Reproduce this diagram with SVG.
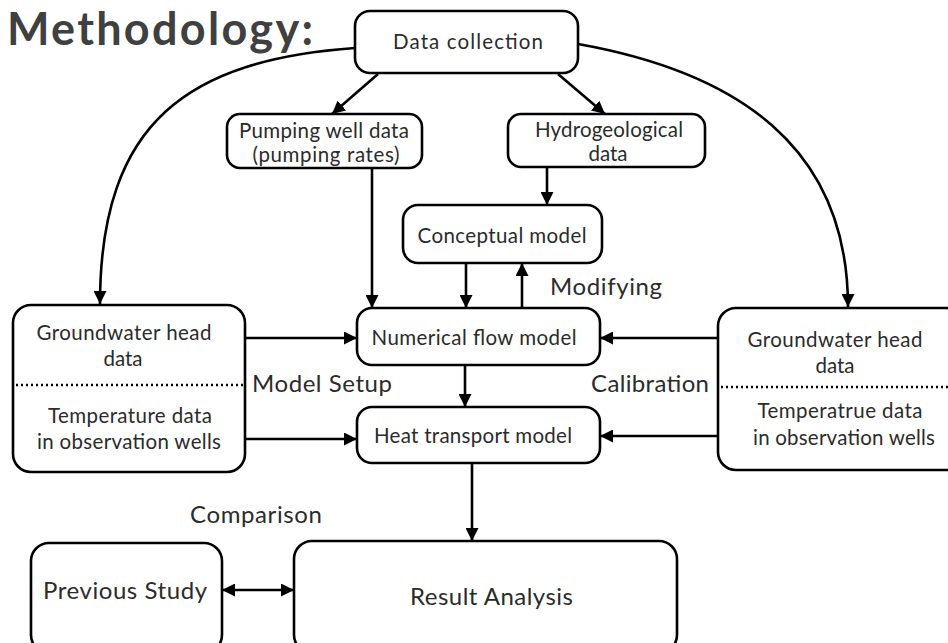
<svg xmlns="http://www.w3.org/2000/svg" width="948" height="643" viewBox="0 0 948 643">
<defs>
<marker id="ah" viewBox="0 0 12 12" markerUnits="userSpaceOnUse" markerWidth="13" markerHeight="13" refX="12" refY="6" orient="auto-start-reverse">
<path d="M0,0 L12,6 L0,12 z" fill="#000"/>
</marker>
</defs>
<style>
.box{fill:#fff;stroke:#000;stroke-width:2.6}
.t{font-family:Lato,"Liberation Sans",sans-serif;font-size:20.5px;fill:#2b2b2b;text-anchor:middle}
.lbl{font-family:Lato,"Liberation Sans",sans-serif;font-size:24px;fill:#2b2b2b}
.big{font-family:Lato,"Liberation Sans",sans-serif;font-size:24px;fill:#2b2b2b}
.c{fill:none;stroke:#000;stroke-width:2.6}
.a{marker-end:url(#ah)}
.dot{stroke:#000;stroke-width:2.6;stroke-dasharray:2 3}
</style>
<rect width="948" height="643" fill="#fff"/>
<text x="7" y="44.5" font-family="Lato,'Liberation Sans',sans-serif" font-weight="bold" font-size="45" fill="#404040" textLength="306">Methodology:</text>

<g id="connectors">
<path class="c a" d="M355,48 C190,60 100,120 100,304"/>
<path class="c a" d="M578,44 C735,72 848,145 848,307"/>
<line class="c a" x1="378" y1="74" x2="332" y2="114"/>
<line class="c a" x1="558" y1="74" x2="605" y2="114"/>
<line class="c a" x1="372" y1="168" x2="372" y2="308"/>
<line class="c a" x1="547" y1="167" x2="547" y2="205"/>
<line class="c a" x1="466" y1="263" x2="466" y2="308"/>
<line class="c a" x1="522" y1="308" x2="522" y2="263"/>
<line class="c a" x1="245" y1="338" x2="357" y2="338"/>
<line class="c a" x1="245" y1="439" x2="357" y2="439"/>
<line class="c a" x1="718" y1="338" x2="600" y2="338"/>
<line class="c a" x1="718" y1="436" x2="600" y2="436"/>
<line class="c a" x1="465" y1="365" x2="465" y2="407"/>
<line class="c a" x1="472" y1="463" x2="472" y2="541"/>
<line class="c a" x1="222" y1="590" x2="294" y2="590" style="marker-start:url(#ah)"/>
</g>

<g id="data-collection">
<rect class="box" x="355" y="11" width="223" height="62" rx="15"/>
<text class="t" x="468" y="49" textLength="150">Data collection</text>
</g>
<g id="pumping-well">
<rect class="box" x="227" y="114" width="195" height="54" rx="13"/>
<text class="t" x="324" y="138" textLength="170">Pumping well data</text>
<text class="t" x="326" y="162" textLength="147">(pumping rates)</text>
</g>
<g id="hydrogeological">
<rect class="box" x="508" y="114" width="197" height="53" rx="13"/>
<text class="t" x="609" y="137" textLength="148">Hydrogeological</text>
<text class="t" x="608" y="161">data</text>
</g>
<g id="conceptual">
<rect class="box" x="403" y="205" width="199" height="58" rx="15"/>
<text class="t" x="502" y="243" textLength="169">Conceptual model</text>
</g>
<g id="numerical">
<rect class="box" x="357" y="308" width="243" height="57" rx="15"/>
<text class="t" x="474" y="345" textLength="205">Numerical flow model</text>
</g>
<g id="heat">
<rect class="box" x="357" y="407" width="243" height="56" rx="15"/>
<text class="t" x="473" y="443" textLength="198">Heat transport model</text>
</g>
<g id="left-data">
<rect class="box" x="13" y="305" width="232" height="167" rx="18"/>
<line class="dot" x1="16" y1="385" x2="243" y2="385"/>
<text class="t" x="124" y="340" textLength="175">Groundwater head</text>
<text class="t" x="123" y="366">data</text>
<text class="t" x="130" y="423" textLength="164">Temperature data</text>
<text class="t" x="129" y="449" textLength="184">in observation wells</text>
</g>
<g id="right-data">
<rect class="box" x="718" y="308" width="246" height="162" rx="18"/>
<line class="dot" x1="721" y1="387" x2="948" y2="387"/>
<text class="t" x="835" y="347" textLength="175">Groundwater head</text>
<text class="t" x="835" y="373">data</text>
<text class="t" x="840" y="418" textLength="165">Temperatrue data</text>
<text class="t" x="844" y="445" textLength="182">in observation wells</text>
</g>
<g id="previous-study">
<rect class="box" x="31" y="543" width="191" height="110" rx="18"/>
<text class="big" x="43" y="599" textLength="164">Previous Study</text>
</g>
<g id="result-analysis">
<rect class="box" x="294" y="541" width="383" height="112" rx="18"/>
<text class="big" x="410" y="605" textLength="163">Result Analysis</text>
</g>
<g id="labels">
<text class="lbl" x="550" y="295" textLength="112">Modifying</text>
<text class="lbl" x="252" y="392" textLength="140">Model Setup</text>
<text class="lbl" x="591" y="392" textLength="118">Calibration</text>
<text class="lbl" x="190" y="523" textLength="132">Comparison</text>
</g>
</svg>
